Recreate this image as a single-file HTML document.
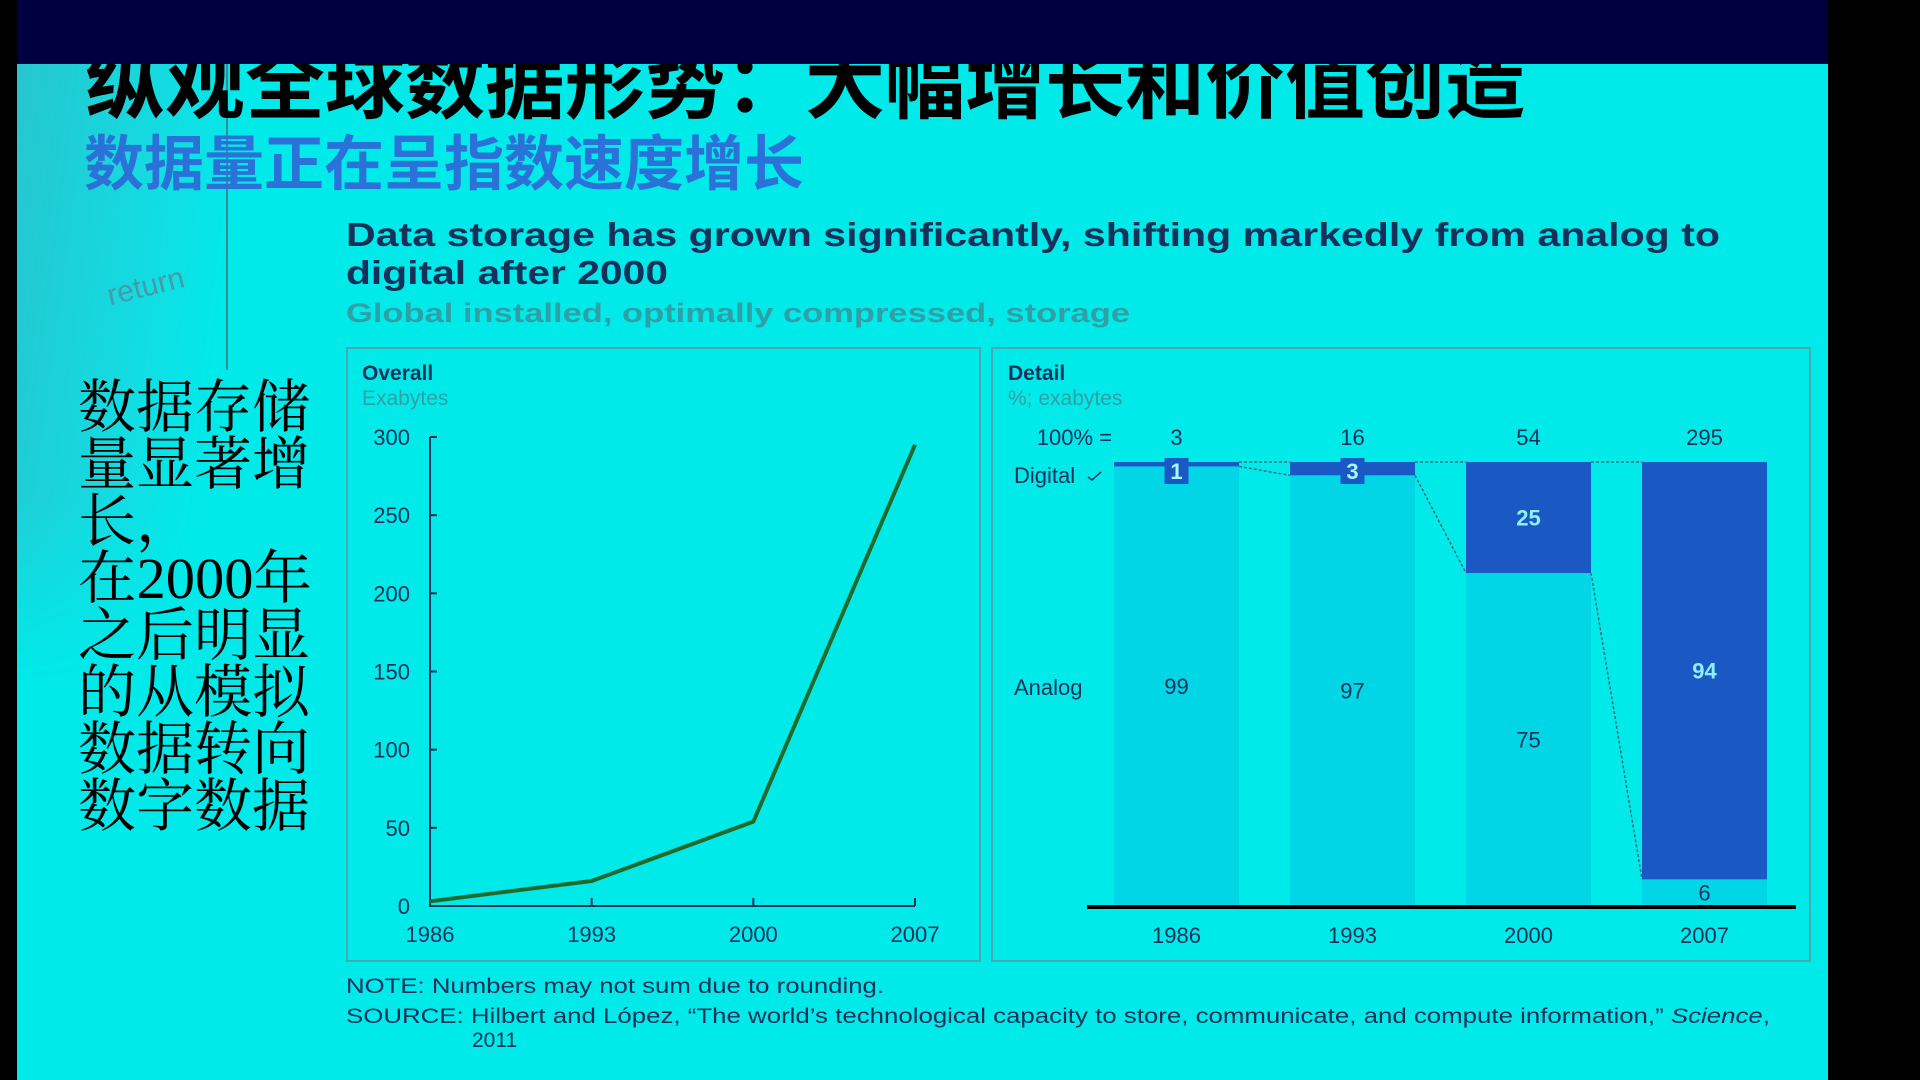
<!DOCTYPE html>
<html><head><meta charset="utf-8">
<style>
html,body{margin:0;padding:0;width:1920px;height:1080px;overflow:hidden;background:#000;}
svg{display:block;}
text{font-family:"Liberation Sans","Noto Sans CJK SC",sans-serif;}
.serif text{font-family:"Liberation Serif","Noto Serif CJK SC",serif;}
</style></head>
<body>
<svg id="s" width="1920" height="1080" viewBox="0 0 1920 1080" xmlns="http://www.w3.org/2000/svg">
<defs>
<linearGradient id="lg" x1="0" y1="0" x2="1" y2="0.4">
<stop offset="0" stop-color="#30bcc8"/><stop offset="0.7" stop-color="#14dce2"/><stop offset="1" stop-color="#00eaea"/>
</linearGradient>
<linearGradient id="lg2" x1="0" y1="0" x2="0" y2="1">
<stop offset="0" stop-color="#00eaea" stop-opacity="0"/><stop offset="1" stop-color="#00eaea" stop-opacity="1"/>
</linearGradient>
</defs>
<rect x="17" y="0" width="1811" height="1080" fill="#00eaea"/>
<rect x="17" y="64" width="210" height="620" fill="url(#lg)" opacity="0.8"/>
<rect x="17" y="500" width="210" height="190" fill="url(#lg2)"/>
<line x1="227" y1="64" x2="227" y2="370" stroke="#3a8a98" stroke-width="2"/>
<text x="105" y="295" font-size="30" fill="#4a98a8" transform="rotate(-14 150 280)">return</text>
<text x="85" y="112" font-size="80" font-weight="bold" fill="#000">纵观全球数据形势：大幅增长和价值创造</text>
<rect x="17" y="0" width="1811" height="64" fill="#000040"/>
<text x="84" y="185" font-size="60" fill="#2a72d8" font-weight="bold">数据量正在呈指数速度增长</text>
<g class="serif" font-size="58" fill="#000">
<text x="78" y="427">数据存储</text>
<text x="78" y="484">量显著增</text>
<text x="78" y="541">长，</text>
<text x="78" y="598" textLength="234" lengthAdjust="spacingAndGlyphs">在2000年</text>
<text x="78" y="655">之后明显</text>
<text x="78" y="712">的从模拟</text>
<text x="78" y="769">数据转向</text>
<text x="78" y="826">数字数据</text>
</g>
<text x="346" y="246" font-size="33" font-weight="bold" fill="#16305a" textLength="1374" lengthAdjust="spacingAndGlyphs">Data storage has grown significantly, shifting markedly from analog to</text>
<text x="346" y="284" font-size="33" font-weight="bold" fill="#16305a" textLength="322" lengthAdjust="spacingAndGlyphs">digital after 2000</text>
<text x="346" y="322" font-size="27" font-weight="bold" fill="#2fa0a6" textLength="784" lengthAdjust="spacingAndGlyphs">Global installed, optimally compressed, storage</text>
<rect x="347" y="348" width="633" height="613" fill="none" stroke="#4aa8b0" stroke-width="2"/>
<rect x="992" y="348" width="818" height="613" fill="none" stroke="#4aa8b0" stroke-width="2"/>
<text x="362" y="380" font-size="21" font-weight="bold" fill="#16305a">Overall</text>
<text x="362" y="405" font-size="21" fill="#2fa0a6">Exabytes</text>
<text x="1008" y="380" font-size="21" font-weight="bold" fill="#16305a">Detail</text>
<text x="1008" y="405" font-size="21" fill="#2fa0a6">%; exabytes</text>
<g id="line-chart"></g>
<g id="bar-chart"></g>
<text x="346" y="993" font-size="21" fill="#16305a" textLength="538" lengthAdjust="spacingAndGlyphs">NOTE: Numbers may not sum due to rounding.</text>
<text x="346" y="1023" font-size="21" fill="#16305a" textLength="1424" lengthAdjust="spacingAndGlyphs">SOURCE: Hilbert and López, “The world’s technological capacity to store, communicate, and compute information,” <tspan font-style="italic">Science</tspan>,</text>
<text x="472" y="1047" font-size="21" fill="#16305a">2011</text>
</svg>
<script>
const years = ["1986","1993","2000","2007"];
const totals = [3,16,54,295];
const yTicks = [0,50,100,150,200,250,300];
const digitalPct = [1,3,25,94];
const analogPct = [99,97,75,6];
const NS="http://www.w3.org/2000/svg";
function mk(tag,attrs,parent,txt){const e=document.createElementNS(NS,tag);for(const k in attrs)e.setAttribute(k,attrs[k]);if(txt!==undefined)e.textContent=txt;parent.appendChild(e);return e;}
const lc=document.getElementById('line-chart');
const lx0=430,lx1=915,ly0=906,ly1=437;
const xL=i=>lx0+(lx1-lx0)*i/(years.length-1);
const yL=v=>ly0-(ly0-ly1)*v/300;
let ax=mk('path',{d:`M${lx0} ${ly1}V${ly0}H${lx1}`,fill:'none',stroke:'#16305a','stroke-width':2},lc);


yTicks.forEach(t=>{
  const tk=mk('line',{x1:lx0,x2:lx0+7,y1:yL(t),y2:yL(t),stroke:'#16305a','stroke-width':2},lc);
  
  
  const tl=mk('text',{x:lx0-20,y:yL(t)+8,'font-size':22,fill:'#16305a','text-anchor':'end'},lc,String(t));
  
  
});
years.forEach((y,i)=>{
  const tk=mk('line',{x1:xL(i),x2:xL(i),y1:ly0,y2:ly0-8,stroke:'#16305a','stroke-width':2},lc);
  
  
  const tl=mk('text',{x:xL(i),y:ly0+36,'font-size':22,fill:'#16305a','text-anchor':'middle'},lc,y);
  
  
});
const ln=mk('polyline',{points:totals.map((v,i)=>xL(i)+','+yL(v)).join(' '),fill:'none',stroke:'#1f6a2a','stroke-width':4,'stroke-linejoin':'round'},lc);


const bc=document.getElementById('bar-chart');
const bTop=462,bBot=906,bW=125;
const bX=i=>1114+i*176;
const yB=p=>bTop+(bBot-bTop)*p/100;
const lbl=(x,y,t,name,opt)=>{const e=mk('text',Object.assign({x:x,y:y,'font-size':22,fill:'#16305a','text-anchor':'middle'},opt||{}),bc,t);return e;};
lbl(1112,445,'100% =','total-label',{'text-anchor':'end'});
lbl(1014,483,'Digital','digital-label',{'text-anchor':'start'});
lbl(1014,695,'Analog','analog-label',{'text-anchor':'start'});
mk('path',{d:'M1088 477 l4 3 l9 -8',fill:'none',stroke:'#16305a','stroke-width':1.5},bc);
years.forEach((y,i)=>{
  const x=bX(i),dB=yB(digitalPct[i]);
  const a=mk('rect',{x:x,y:dB,width:bW,height:bBot-dB,fill:'#00d6e6'},bc);
  
  
  const d=mk('rect',{x:x,y:bTop,width:bW,height:dB-bTop,fill:'#1a58c4'},bc);
  
  
  lbl(x+bW/2,445,String(totals[i]),'total-value-'+y);
  lbl(x+bW/2,bBot+37,y,'x-label-'+y);
  if(digitalPct[i]<10){
    const bx=mk('rect',{x:x+bW/2-12,y:bTop-4,width:24,height:26,fill:'#1a58c4'},bc);
    
    
    lbl(x+bW/2,bTop+17,String(digitalPct[i]),'digital-value-'+y,{fill:'#a8f4ff','font-weight':'bold'});
  } else {
    lbl(x+bW/2,(bTop+dB)/2+8,String(digitalPct[i]),'digital-value-'+y,{fill:'#8ef0ff','font-weight':'bold'});
  }
  lbl(x+bW/2,(dB+bBot)/2+8,String(analogPct[i]),'analog-value-'+y);
  if(i<years.length-1){
    const nx=bX(i+1);
    const c1=mk('line',{x1:x+bW,y1:bTop,x2:nx,y2:bTop,stroke:'#3a6a7a','stroke-width':1.5,'stroke-dasharray':'3 2'},bc);
    
    
    const c2=mk('line',{x1:x+bW,y1:dB,x2:nx,y2:yB(digitalPct[i+1]),stroke:'#3a6a7a','stroke-width':1.5,'stroke-dasharray':'3 2'},bc);
    
    
  }
});
const base=mk('line',{x1:1087,x2:1796,y1:bBot+1,y2:bBot+1,stroke:'#000','stroke-width':4},bc);


</script>
</body></html>
